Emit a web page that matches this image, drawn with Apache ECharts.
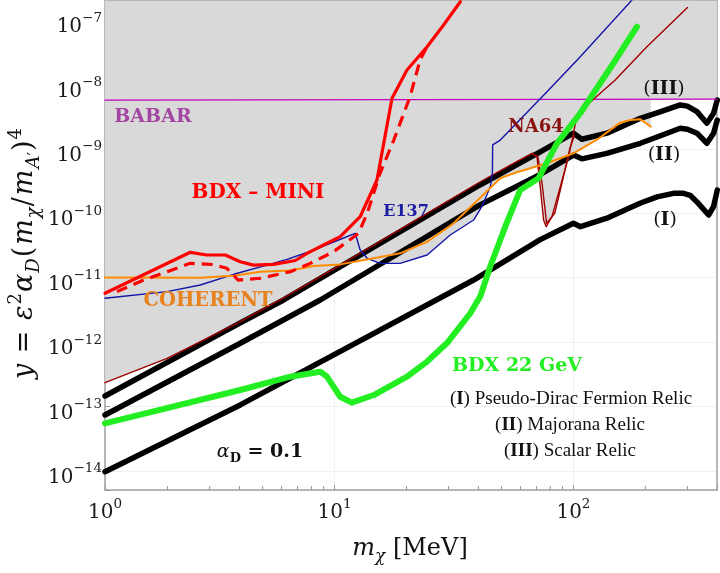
<!DOCTYPE html>
<html><head><meta charset="utf-8">
<script src="https://cdn.jsdelivr.net/npm/echarts@6/dist/echarts.min.js"></script>
<style>html,body{margin:0;padding:0;background:#fff}#c{width:720px;height:573px}</style>
</head><body><div id="c"></div>
<script>
// axis extents
const X_MIN = 1.094, X_MAX = 399;
const Y_MIN = 5.07e-15, Y_MAX = 1.972e-7;

// minor tick values on the mass axis
const xMinorTicks = [2,3,4,5,6,7,8,9,20,30,40,50,60,70,80,90,200,300];

// relic targets (alpha_D = 0.1)
const relicI = [[1.094,9.75e-15],[4.03,1.06e-13],[38.2,9.2e-12],[72.6,3.9e-11],[100,7.0e-11],[107,6.2e-11],[138,8.4e-11],[190,1.43e-10],[224,1.8e-10],[262,2.04e-10],[289,2.04e-10],[308,1.9e-10],[329,1.5e-10],[368,9.4e-11],[386,1.27e-10],[400,2.3e-10]];
const relicII = [[1.094,7.4e-14],[4.03,9.6e-13],[8.71,4.51e-12],[40.6,1.35e-10],[72.6,4.0e-10],[100,8.0e-10],[108.5,7.0e-10],[138,8.5e-10],[190.5,1.22e-9],[224,1.53e-9],[280,2.09e-9],[300,2.02e-9],[329,1.75e-9],[362,1.22e-9],[386,1.75e-9],[400,2.8e-9]];
const relicIII = [[1.094,1.46e-13],[4.03,1.99e-12],[6.12,4.51e-12],[40.6,2.75e-10],[72.6,9.0e-10],[100,1.75e-9],[108.5,1.41e-9],[138,1.75e-9],[190.5,2.98e-9],[224,3.63e-9],[280,4.8e-9],[300,4.6e-9],[329,3.78e-9],[362,2.5e-9],[386,3.57e-9],[400,5.74e-9]];

// BDX 22 GeV projection
const bdx22 = [[1.094,5.5e-14],[4.03,1.81e-13],[6.53,2.91e-13],[8.71,3.48e-13],[9.29,2.91e-13],[9.9,2.04e-13],[10.56,1.42e-13],[11.8,1.15e-13],[14.6,1.51e-13],[20.1,2.91e-13],[24.4,5.0e-13],[29.5,9.6e-13],[37.0,2.81e-12],[40.8,5.2e-12],[44.8,1.48e-11],[51.8,6.19e-11],[59.9,2.3e-10],[71.4,3.49e-10],[85.3,1.22e-9],[106.8,3.57e-9],[147,2.13e-8],[184.5,7.86e-8]];

// BDX-MINI (solid and dashed)
const bdxMini = [[1.094,5.74e-12],[2.49,2.48e-11],[2.92,2.25e-11],[3.49,2.25e-11],[4.03,1.77e-11],[4.58,1.57e-11],[5.56,1.61e-11],[6.85,1.85e-11],[7.67,2.39e-11],[8.99,3.22e-11],[10.56,4.33e-11],[12.8,8.84e-11],[15.05,3.29e-10],[17.4,6.1e-9],[20.1,1.67e-8],[24.4,3.85e-8],[28.6,8.36e-8],[33.6,1.92e-7]];
const bdxMiniDashed = [[1.228,6.08e-12],[1.587,9.2e-12],[2.49,1.67e-11],[3.12,1.6e-11],[3.54,1.4e-11],[3.95,9.2e-12],[4.89,9.8e-12],[6.53,1.24e-11],[7.91,1.67e-11],[9.9,2.53e-11],[12.6,4.89e-11],[13.7,1.0e-10],[15.5,4.17e-10],[17.7,1.37e-9],[20.7,6.45e-9],[22.8,2.39e-8],[24.4,3.85e-8]];

// E137
const e137 = [[1.094,4.8e-12],[1.99,6.08e-12],[2.74,7.7e-12],[3.78,1.13e-11],[5.21,1.57e-11],[6.32,1.93e-11],[7.67,2.46e-11],[10.4,3.85e-11],[12.2,4.89e-11],[12.8,2.69e-11],[13.7,2.0e-11],[15.5,1.67e-11],[18.8,1.67e-11],[24.4,2.25e-11],[30.5,4.6e-11],[38.2,7.86e-11],[41.5,1.3e-10],[45.0,2.65e-10],[45.8,4.37e-10],[45.9,1.15e-9],[49.4,1.37e-9],[77.5,7.7e-9],[106.8,2.69e-8],[175.8,2.04e-7]];

// COHERENT
const coherent = [[1.094,1.01e-11],[2.74,1.0e-11],[3.78,1.07e-11],[4.89,1.24e-11],[6.53,1.29e-11],[8.17,1.52e-11],[10.56,1.61e-11],[14.6,2.0e-11],[18.8,2.39e-11],[24.4,3.62e-11],[31.5,6.98e-11],[40.6,1.73e-10],[49.4,3.49e-10],[56.1,4.17e-10],[77.5,5.97e-10],[100,8.53e-10],[125.8,1.4e-9],[157,2.55e-9],[173,2.81e-9],[190.5,2.88e-9],[210.7,2.21e-9]];

// NA64 (two curves)
const na64 = [[1.094,2.35e-13],[1.99,5.6e-13],[4.03,2.08e-12],[6.12,4.85e-12],[10.56,1.57e-11],[40.6,3.06e-10],[56.1,5.97e-10],[67.0,8.53e-10],[70.4,7.5e-10],[72.6,2.59e-10],[75.0,7.86e-11],[76.9,6.19e-11],[81.3,8.84e-11],[88.1,2.59e-10],[95.4,7.5e-10],[100,1.75e-9],[103.4,3.16e-9],[110.2,4.27e-9],[129.5,7.3e-9],[149.6,1.17e-8],[203,3.85e-8],[300.3,1.57e-7]];
const na64b = [[67.0,8.5e-10],[71.0,7.6e-10],[74.0,2.8e-10],[77.2,7.0e-11],[78.5,6.6e-11],[83.5,1.0e-10],[90,3.2e-10],[96.5,1.0e-9],[101,1.6e-9]];

// BABAR
const babar = [[1.094,5.7e-9],[399,5.9e-9]];

// lower edge of the excluded (grey) region
const excludedFloor = [[1.094,2.35e-13],[1.99,5.6e-13],[4.03,2.08e-12],[6.12,4.85e-12],[10.56,1.57e-11],[12.2,1.78e-11],[13.7,1.95e-11],[15.5,1.67e-11],[18.8,1.67e-11],[24.4,2.25e-11],[30.5,4.6e-11],[38.2,7.86e-11],[41.5,1.3e-10],[45.0,2.5e-10],[49.4,3.49e-10],[56.1,4.17e-10],[70.9,5.3e-10],[72.6,2.59e-10],[75.0,7.86e-11],[76.9,6.19e-11],[81.3,8.84e-11],[88.1,2.59e-10],[95.1,7.9e-10],[100,8.53e-10],[125.8,1.4e-9],[157,2.55e-9],[173,2.81e-9],[190.5,2.88e-9],[210.7,2.21e-9],[210.7,5.8e-9],[399,5.9e-9]];

const SERIF = 'DejaVu Serif';
const TIMES = 'Liberation Serif';

function powLabel(v) {
  const l = Math.log10(v);
  const e = Math.round(l);
  if (Math.abs(l - e) > 0.05) return '';
  return '{b|10}{s|' + (e < 0 ? '\u2212' + (-e) : e) + '}';
}
const tickRich = {
  b: {fontFamily: SERIF, fontSize: 20, lineHeight: 32, color: '#1a1a1a'},
  s: {fontFamily: SERIF, fontSize: 13.5, lineHeight: 12, verticalAlign: 'top', color: '#1a1a1a'}
};
const frame = {show: true, lineStyle: {color: '#a0a0a0', width: 1.5}};

function lineSeries(data, color, width, z, extra) {
  return Object.assign({
    type: 'line', data: data, symbol: 'none', silent: true, z: z,
    lineStyle: {color: color, width: width, cap: 'round', join: 'round'}
  }, extra || {});
}

const chart = echarts.init(document.getElementById('c'), null, {renderer: 'canvas'});
chart.setOption({
  animation: false,
  backgroundColor: '#fff',
  grid: {left: 105, right: 3, top: 1, bottom: 83, containLabel: false},
  xAxis: [{
    type: 'log', min: X_MIN, max: X_MAX,
    axisLine: frame,
    axisTick: {show: true, inside: true, length: 5, lineStyle: {color: '#999'}},
    axisLabel: {show: true, showMinLabel: true, showMaxLabel: true, margin: 7, formatter: powLabel, rich: tickRich},
    splitLine: {show: true, lineStyle: {color: '#f0f0f0'}}
  }, {
    type: 'log', min: X_MIN, max: X_MAX, position: 'top',
    axisLine: frame, axisTick: {show: false}, axisLabel: {show: false}, splitLine: {show: false}
  }],
  yAxis: [{
    type: 'log', min: Y_MIN, max: Y_MAX,
    axisLine: frame,
    axisTick: {show: true, inside: true, length: 5, lineStyle: {color: '#999'}},
    axisLabel: {show: true, margin: 3, padding: [14, 0, 0, 0], formatter: powLabel, rich: tickRich},
    splitLine: {show: true, lineStyle: {color: '#f0f0f0'}}
  }, {
    type: 'log', min: Y_MIN, max: Y_MAX, position: 'right',
    axisLine: frame, axisTick: {show: false}, axisLabel: {show: false}, splitLine: {show: false}
  }],
  series: [
    lineSeries(excludedFloor, '#d9d9d9', 0, 1, {lineStyle: {opacity: 0}, areaStyle: {color: '#d9d9d9', opacity: 1, origin: 'end'}}),
    lineSeries(relicIII, '#000', 5.5, 3),
    lineSeries(relicII, '#000', 5.5, 3),
    lineSeries(relicI, '#000', 5.5, 3),
    lineSeries(babar, '#c000c0', 1.3, 4),
    lineSeries(na64, '#a00000', 1.4, 4),
    lineSeries(na64b, '#a00000', 1.4, 4),
    lineSeries(e137, '#1414a8', 1.4, 4),
    lineSeries(coherent, '#ff8c00', 2, 4),
    lineSeries(bdxMiniDashed, '#ff0000', 3.2, 5, {lineStyle: {color: '#ff0000', width: 3.2, type: [11, 7]}}),
    lineSeries(bdxMini, '#ff0000', 3.2, 5),
    lineSeries(bdx22, '#22ee22', 6, 6),
    {
      type: 'custom', silent: true, z: 10, clip: false,
      data: xMinorTicks.map(v => [v, Y_MIN]),
      renderItem: function (params, api) {
        const p = api.coord([api.value(0), api.value(1)]);
        return {type: 'line', shape: {x1: p[0], y1: p[1], x2: p[0], y2: p[1] - 4},
                style: {stroke: '#999', lineWidth: 1}};
      }
    }
  ],
  graphic: [
    {type: 'text', x: 153, y: 117, z: 100, style: {text: 'BABAR', fill: '#a346a3', fontFamily: SERIF, fontWeight: 'bold', fontSize: 19, align: 'center', verticalAlign: 'middle'}},
    {type: 'text', x: 258, y: 193, z: 100, style: {text: 'BDX \u2013 MINI', fill: '#ff0000', fontFamily: SERIF, fontWeight: 'bold', fontSize: 20, align: 'center', verticalAlign: 'middle'}},
    {type: 'text', x: 208, y: 301, z: 100, style: {text: 'COHERENT', fill: '#e8821e', fontFamily: SERIF, fontWeight: 'bold', fontSize: 19.5, align: 'center', verticalAlign: 'middle'}},
    {type: 'text', x: 406, y: 212, z: 100, style: {text: 'E137', fill: '#1c1ca0', fontFamily: SERIF, fontWeight: 'bold', fontSize: 16, align: 'center', verticalAlign: 'middle'}},
    {type: 'text', x: 536, y: 127, z: 100, style: {text: 'NA64', fill: '#8b1010', fontFamily: SERIF, fontWeight: 'bold', fontSize: 18, align: 'center', verticalAlign: 'middle'}},
    {type: 'text', x: 517, y: 366, z: 100, style: {text: 'BDX 22 GeV', fill: '#22ee22', fontFamily: SERIF, fontWeight: 'bold', fontSize: 19, align: 'center', verticalAlign: 'middle'}},
    {type: 'text', x: 664, y: 89, z: 100, style: {text: '{r|(}{b|III}{r|)}', align: 'center', verticalAlign: 'middle', rich: {r: {fontFamily: SERIF, fontSize: 19, fill: '#111'}, b: {fontFamily: SERIF, fontSize: 19, fontWeight: 'bold', fill: '#111'}}}},
    {type: 'text', x: 664, y: 155, z: 100, style: {text: '{r|(}{b|II}{r|)}', align: 'center', verticalAlign: 'middle', rich: {r: {fontFamily: SERIF, fontSize: 19, fill: '#111'}, b: {fontFamily: SERIF, fontSize: 19, fontWeight: 'bold', fill: '#111'}}}},
    {type: 'text', x: 665, y: 220, z: 100, style: {text: '{r|(}{b|I}{r|)}', align: 'center', verticalAlign: 'middle', rich: {r: {fontFamily: SERIF, fontSize: 19, fill: '#111'}, b: {fontFamily: SERIF, fontSize: 19, fontWeight: 'bold', fill: '#111'}}}},
    {type: 'text', x: 571, y: 399, z: 100, style: {text: '{r|(}{b|I}{r|) Pseudo-Dirac Fermion Relic}', align: 'center', verticalAlign: 'middle', rich: {r: {fontFamily: TIMES, fontSize: 19, fill: '#111'}, b: {fontFamily: TIMES, fontSize: 19, fontWeight: 'bold', fill: '#111'}}}},
    {type: 'text', x: 570, y: 425, z: 100, style: {text: '{r|(}{b|II}{r|) Majorana Relic}', align: 'center', verticalAlign: 'middle', rich: {r: {fontFamily: TIMES, fontSize: 19, fill: '#111'}, b: {fontFamily: TIMES, fontSize: 19, fontWeight: 'bold', fill: '#111'}}}},
    {type: 'text', x: 570, y: 451, z: 100, style: {text: '{r|(}{b|III}{r|) Scalar Relic}', align: 'center', verticalAlign: 'middle', rich: {r: {fontFamily: TIMES, fontSize: 19, fill: '#111'}, b: {fontFamily: TIMES, fontSize: 19, fontWeight: 'bold', fill: '#111'}}}},
    {type: 'text', x: 260, y: 452, z: 100, style: {text: '{a|\u03b1}{d|D}{e| = 0.1}', align: 'center', verticalAlign: 'middle', rich: {
      a: {fontFamily: SERIF, fontStyle: 'italic', fontSize: 19, lineHeight: 26, fill: '#111'},
      d: {fontFamily: SERIF, fontWeight: 'bold', fontSize: 13, lineHeight: 14, verticalAlign: 'bottom', fill: '#111'},
      e: {fontFamily: SERIF, fontWeight: 'bold', fontSize: 19, lineHeight: 26, fill: '#111'}}}},
    {type: 'text', x: 410, y: 549, z: 100, style: {text: '{i|m}{sb|\u03c7}{r| [MeV]}', align: 'center', verticalAlign: 'middle', rich: {
      i: {fontFamily: SERIF, fontStyle: 'italic', fontSize: 24, lineHeight: 32, fill: '#111'},
      sb: {fontFamily: SERIF, fontStyle: 'italic', fontSize: 17, lineHeight: 14, verticalAlign: 'bottom', fill: '#111'},
      r: {fontFamily: SERIF, fontSize: 24, lineHeight: 32, fill: '#111'}}}},
    {type: 'text', x: 25, y: 254, z: 100, rotation: Math.PI / 2, style: {
      text: '{i|y}{r| = }{i|\u03b5}{sp|2}{i|\u03b1}{sb|D}{r|(}{i|m}{sb|\u03c7}{r|/}{i|m}{sb|A}{pr|\u2032}{r|)}{sp|4}',
      align: 'center', verticalAlign: 'middle', rich: {
      i: {fontFamily: SERIF, fontStyle: 'italic', fontSize: 27, lineHeight: 36, fill: '#111', padding: [0, 1, 0, 1]},
      r: {fontFamily: SERIF, fontSize: 27, lineHeight: 36, fill: '#111', padding: [0, 1, 0, 1]},
      sp: {fontFamily: SERIF, fontSize: 18, lineHeight: 14, verticalAlign: 'top', fill: '#111'},
      pr: {fontFamily: 'DejaVu Sans', fontSize: 16, lineHeight: 24, verticalAlign: 'bottom', fill: '#111'},
      sb: {fontFamily: SERIF, fontStyle: 'italic', fontSize: 18, lineHeight: 16, verticalAlign: 'bottom', fill: '#111'}}}}
  ]
});
</script>
</body></html>
